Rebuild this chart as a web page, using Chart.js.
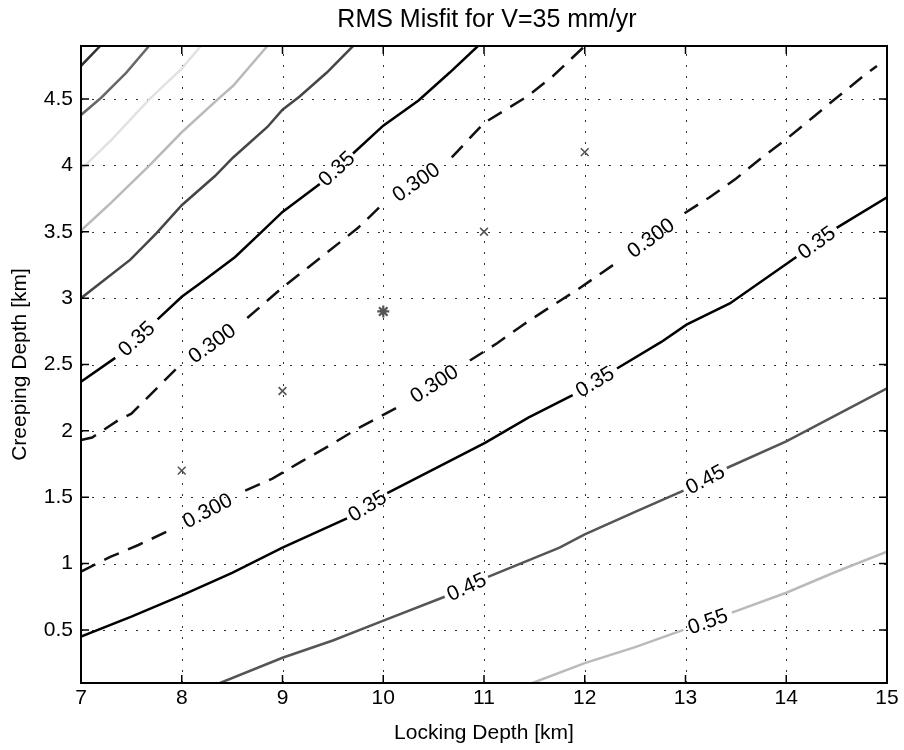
<!DOCTYPE html>
<html>
<head>
<meta charset="utf-8">
<title>RMS Misfit</title>
<script src="https://cdn.jsdelivr.net/npm/chart.js@4.4.0/dist/chart.umd.min.js"></script>
<style>
  html, body { margin: 0; padding: 0; background: #fff; }
</style>
</head>
<body>
<canvas id="misfitChart" width="904" height="750"></canvas>
<script>
const xTicks = [7, 8, 9, 10, 11, 12, 13, 14, 15];
const yTicks = [0.5, 1, 1.5, 2, 2.5, 3, 3.5, 4, 4.5];

// contour lines as [locking depth, creeping depth]; null = gap where the level label sits
const upperLeft1 = [[7, 4.75], [7.19, 4.9]];
const upperLeft2 = [[7, 4.38], [7.2, 4.51], [7.45, 4.7], [7.675, 4.9]];
const upperLeft3 = [[7, 3.97], [7.3, 4.19], [7.68, 4.5], [8.0, 4.73], [8.19, 4.9]];
const upperLeft4 = [[7, 3.51], [7.3, 3.72], [7.68, 4.0], [8.0, 4.25], [8.36, 4.5], [8.51, 4.6], [8.85, 4.9]];
const upperLeft5 = [[7, 3.0], [7.49, 3.29], [7.75, 3.49], [8.0, 3.7], [8.33, 3.92], [8.51, 4.06], [8.85, 4.29], [9.0, 4.42], [9.17, 4.52], [9.44, 4.7], [9.7, 4.9]];
const rms035Upper = [[7, 2.37], [7.34, 2.55], null, [7.76, 2.84], [8.0, 3.01], [8.18, 3.11], [8.53, 3.31], [8.78, 3.49], [9.0, 3.65], [9.37, 3.86], null, [9.7, 4.09], [10.0, 4.3], [10.35, 4.49], [10.66, 4.7], [10.94, 4.9]];
const rms030Upper = [[7, 1.93], [7.11, 1.95], [7.37, 2.08], [7.5, 2.13], [7.62, 2.22], [7.83, 2.38], [7.95, 2.47], null, [8.65, 2.85], [9.0, 3.08], [9.37, 3.3], [9.75, 3.53], [9.97, 3.69], null, [10.68, 4.06], [11.0, 4.32], [11.43, 4.52], [11.68, 4.67], [12.0, 4.9]];
const rms030Lower = [[7, 0.94], [7.29, 1.05], [7.57, 1.14], [7.88, 1.25], null, [8.63, 1.55], [8.9, 1.64], [9.19, 1.77], [9.47, 1.89], [9.75, 2.02], [10.15, 2.18], null, [10.86, 2.53], [11.13, 2.66], [11.39, 2.8], [11.65, 2.93], [11.92, 3.06], [12.32, 3.27], null, [12.99, 3.64], [13.24, 3.76], [13.5, 3.9], [13.76, 4.06], [14.02, 4.21], [14.26, 4.36], [14.5, 4.51], [14.76, 4.67], [14.9, 4.75]];
const rms035Lower = [[7, 0.45], [7.5, 0.6], [8.0, 0.76], [8.5, 0.93], [9.0, 1.12], [9.64, 1.34], null, [10.04, 1.53], [11.01, 1.91], [11.44, 2.1], [11.88, 2.27], null, [12.32, 2.47], [12.76, 2.67], [13.01, 2.8], [13.44, 2.96], [14.1, 3.31], null, [14.5, 3.53], [15, 3.76]];
const rms045 = [[8.38, 0.1], [9.0, 0.29], [9.5, 0.42], [9.97, 0.56], [10.61, 0.75], null, [11.04, 0.9], [11.75, 1.12], [12.0, 1.22], [12.5, 1.39], [12.98, 1.55], null, [13.41, 1.72], [14.0, 1.92], [14.5, 2.12], [15, 2.32]];
const rms055 = [[11.48, 0.1], [12.0, 0.25], [12.5, 0.37], [12.98, 0.5], null, [13.46, 0.63], [14.0, 0.78], [14.5, 0.94], [15, 1.09]];

// trial models
const trialLocking = [8, 9, 10, 11, 12];
const trialCreeping = [1.7, 2.3, 2.9, 3.5, 4.1];

const FONT = '"Liberation Sans", Arial, Helvetica, sans-serif';

const contours = [
  { pts: upperLeft1, level: null, color: "#303030" },
  { pts: upperLeft2, level: null, color: "#686868" },
  { pts: upperLeft3, level: null, color: "#e2e2e2" },
  { pts: upperLeft4, level: null, color: "#bababa" },
  { pts: upperLeft5, level: null, color: "#464646" },
  { pts: rms035Upper, level: "0.35", color: "#000" },
  { pts: rms030Upper, level: "0.300", color: "#111", dash: [16, 10] },
  { pts: rms030Lower, level: "0.300", color: "#111", dash: [16, 10] },
  { pts: rms035Lower, level: "0.35", color: "#000" },
  { pts: rms045, level: "0.45", color: "#555" },
  { pts: rms055, level: "0.55", color: "#bababa" },
];

function toXY(pts) {
  const out = [];
  pts.forEach((p, i) => {
    if (p === null) out.push({ x: pts[i - 1][0], y: null });
    else out.push({ x: p[0], y: p[1] });
  });
  return out;
}

const datasets = contours.map((c) => ({
  data: toXY(c.pts),
  showLine: true,
  borderColor: c.color,
  borderWidth: 2.5,
  borderDash: c.dash || [],
  pointRadius: 0,
  tension: 0,
  fill: false,
  spanGaps: false,
}));

datasets.push({
  data: trialLocking.map((x, i) => ({ x: x, y: trialCreeping[i] })),
  showLine: false,
  pointStyle: trialLocking.map((x) => (x === 10 ? "star" : "crossRot")),
  pointRadius: trialLocking.map((x) => (x === 10 ? 6 : 5.5)),
  borderWidth: trialLocking.map((x) => (x === 10 ? 2.2 : 1.6)),
  borderColor: "#555",
  backgroundColor: "#555",
});

const frameAndGrid = {
  id: "frameAndGrid",
  beforeDatasetsDraw(chart) {
    const { ctx, chartArea: a, scales } = chart;
    ctx.save();
    ctx.strokeStyle = "#333";
    ctx.lineWidth = 1;
    ctx.setLineDash([2, 9]);
    xTicks.forEach((v) => {
      const px = Math.round(scales.x.getPixelForValue(v)) + 0.5;
      if (px < a.left + 2 || px > a.right - 2) return;
      ctx.beginPath();
      ctx.moveTo(px, a.bottom);
      ctx.lineTo(px, a.top);
      ctx.stroke();
    });
    yTicks.forEach((v) => {
      const py = Math.round(scales.y.getPixelForValue(v)) + 0.5;
      ctx.beginPath();
      ctx.moveTo(a.left, py);
      ctx.lineTo(a.right, py);
      ctx.stroke();
    });
    ctx.restore();
  },
  afterDatasetsDraw(chart) {
    const { ctx, chartArea: a, scales } = chart;
    ctx.save();
    ctx.strokeStyle = "#000";
    ctx.lineWidth = 1.5;
    xTicks.forEach((v) => {
      const px = scales.x.getPixelForValue(v);
      ctx.beginPath();
      ctx.moveTo(px, a.bottom);
      ctx.lineTo(px, a.bottom - 8);
      ctx.moveTo(px, a.top);
      ctx.lineTo(px, a.top + 8);
      ctx.stroke();
    });
    yTicks.forEach((v) => {
      const py = scales.y.getPixelForValue(v);
      ctx.beginPath();
      ctx.moveTo(a.left, py);
      ctx.lineTo(a.left + 8, py);
      ctx.moveTo(a.right, py);
      ctx.lineTo(a.right - 8, py);
      ctx.stroke();
    });
    ctx.lineWidth = 2;
    ctx.strokeRect(a.left, a.top, a.right - a.left, a.bottom - a.top);

    // contour level labels, centred in each gap and turned along the line
    ctx.font = "21px " + FONT;
    ctx.fillStyle = "#000";
    ctx.textAlign = "center";
    ctx.textBaseline = "middle";
    contours.forEach((c) => {
      if (!c.level) return;
      c.pts.forEach((p, i) => {
        if (p !== null) return;
        const s = c.pts[i - 1];
        const e = c.pts[i + 1];
        const sx = scales.x.getPixelForValue(s[0]);
        const sy = scales.y.getPixelForValue(s[1]);
        const ex = scales.x.getPixelForValue(e[0]);
        const ey = scales.y.getPixelForValue(e[1]);
        ctx.save();
        ctx.translate((sx + ex) / 2, (sy + ey) / 2);
        ctx.rotate(Math.atan2(ey - sy, ex - sx));
        ctx.fillText(c.level, 0, 1);
        ctx.restore();
      });
    });

    ctx.font = "25px " + FONT;
    ctx.textBaseline = "alphabetic";
    ctx.fillText("RMS Misfit for V=35 mm/yr", 487, 27);
    ctx.restore();
  },
};

new Chart(document.getElementById("misfitChart"), {
  type: "scatter",
  data: { datasets: datasets },
  options: {
    responsive: false,
    animation: false,
    events: [],
    layout: { padding: { top: 46, right: 17, bottom: 0, left: 0 } },
    plugins: {
      legend: { display: false },
      title: { display: false },
      tooltip: { enabled: false },
    },
    scales: {
      x: {
        type: "linear",
        min: 7,
        max: 15,
        afterBuildTicks: (s) => {
          s.ticks = xTicks.map((v) => ({ value: v }));
        },
        afterFit: (s) => {
          s.height = 67;
        },
        grid: { display: false, drawTicks: false },
        border: { display: false },
        ticks: {
          color: "#000",
          font: { family: FONT, size: 21 },
          padding: 3,
          maxRotation: 0,
          autoSkip: false,
          callback: (v) => String(v),
        },
        title: {
          display: true,
          text: "Locking Depth [km]",
          color: "#000",
          font: { family: FONT, size: 21 },
          padding: { top: 0, bottom: 4 },
        },
      },
      y: {
        type: "linear",
        min: 0.1,
        max: 4.9,
        afterBuildTicks: (s) => {
          s.ticks = yTicks.map((v) => ({ value: v }));
        },
        afterFit: (s) => {
          s.width = 81;
        },
        grid: { display: false, drawTicks: false },
        border: { display: false },
        ticks: {
          color: "#000",
          font: { family: FONT, size: 21 },
          padding: 8,
          autoSkip: false,
          callback: (v) => String(v),
        },
        title: {
          display: true,
          text: "Creeping Depth [km]",
          color: "#000",
          font: { family: FONT, size: 21 },
          padding: { top: 8, bottom: 0 },
        },
      },
    },
  },
  plugins: [frameAndGrid],
});
</script>
</body>
</html>
